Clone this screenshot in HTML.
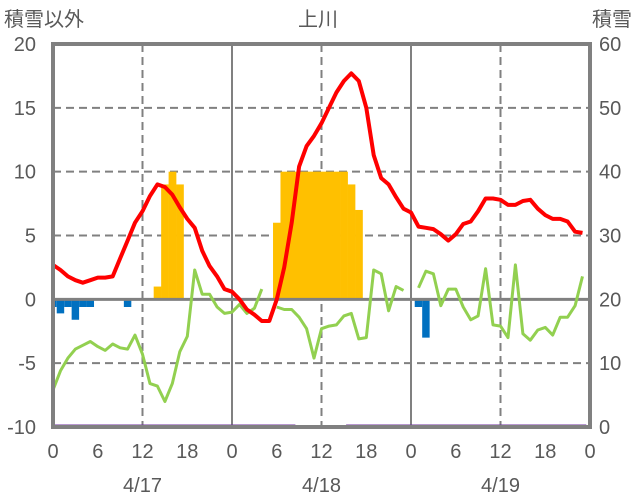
<!DOCTYPE html>
<html><head><meta charset="utf-8"><style>
html,body{margin:0;padding:0;background:#fff;width:636px;height:501px;overflow:hidden}
svg text{font-family:"Liberation Sans","Noto Sans CJK JP",sans-serif;fill:#595959}
</style></head><body>
<svg id="chart" width="636" height="501" xmlns="http://www.w3.org/2000/svg"></svg>
<script>
const hours = Array.from({length:72},(_,i)=>i);
const tempValues = [2.7,2.3,1.8,1.5,1.3,1.5,1.7,1.7,1.8,3.2,4.6,6.0,6.9,8.1,9.0,8.8,8.2,7.2,6.3,5.6,3.8,2.6,1.8,0.8,0.6,0.0,-0.8,-1.2,-1.7,-1.7,0.0,2.5,6.0,10.4,12.0,12.8,13.8,15.0,16.2,17.1,17.7,17.1,15.0,11.3,9.5,9.0,8.0,7.1,6.8,5.7,5.6,5.5,5.1,4.6,5.1,5.9,6.1,6.9,7.9,7.9,7.8,7.4,7.4,7.7,7.8,7.1,6.6,6.3,6.3,6.1,5.3,5.2];
const greenValues = [-7.1,-5.6,-4.6,-3.9,-3.6,-3.3,-3.7,-4.0,-3.5,-3.8,-3.9,-2.8,-4.3,-6.6,-6.8,-8.0,-6.6,-4.1,-2.9,2.3,0.4,0.4,-0.6,-1.1,-1.0,-0.4,-1.1,-0.7,0.8,null,-0.6,-0.8,-0.8,-1.4,-2.3,-4.6,-2.3,-2.1,-2.0,-1.3,-1.1,-3.1,-3.0,2.3,2.0,-0.9,1.0,0.7,null,0.9,2.2,2.0,-0.5,0.8,0.8,-0.6,-1.6,-1.3,2.4,-2.0,-2.1,-3.0,2.7,-2.7,-3.2,-2.4,-2.2,-2.8,-1.4,-1.4,-0.5,1.8];
const snowHours = [14,15,16,17,30,31,32,33,34,35,36,37,38,39,40,41];
const snowValues = [22,38,40,38,32,40,40,40,40,40,40,40,40,40,38,34];
const blueHours = [0,1,2,3,4,5,10,49,50];
const blueValues = [-0.6,-1.1,-0.6,-1.6,-0.6,-0.6,-0.6,-0.6,-3.0];
const purpleSegments = [[0,32.5],[39.3,71.5]];
const leftTicks = [20,15,10,5,0,-5,-10];
const rightTicks = [60,50,40,30,20,10,0];
const hourTickLabels = ["0","6","12","18","0","6","12","18","0","6","12","18","0"];
const dateLabels = ["4/17","4/18","4/19"];

const L=53,R=590,T=44,B=427;
const x = h => L + h*(R-L)/72;
const yL = v => T + (20-v)*(B-T)/30;
const yR = v => T + (60-v)*(B-T)/60;
const svg=document.getElementById('chart');
const NS='http://www.w3.org/2000/svg';
function mk(tag,attrs,parent){const e=document.createElementNS(NS,tag);for(const k in attrs)e.setAttribute(k,attrs[k]);(parent||svg).appendChild(e);return e;}

// grid
const grid=mk('g',{});


[15,10,5,-5].forEach(v=>{const l=mk('line',{x1:L,x2:R,y1:yL(v),y2:yL(v),stroke:'#808080','stroke-width':2,'stroke-dasharray':'8,5'},grid);

});
[12,36,60].forEach(h=>{const l=mk('line',{x1:x(h),x2:x(h),y1:T,y2:B,stroke:'#808080','stroke-width':2,'stroke-dasharray':'8,5'},grid);

});
[24,48].forEach(h=>{const l=mk('line',{x1:x(h),x2:x(h),y1:T,y2:B,stroke:'#808080','stroke-width':2},grid);

});

// snow bars
const bw=(R-L)/72;
snowHours.forEach((h,i)=>{const r=mk('rect',{x:x(h)-bw/2,y:yR(snowValues[i]),width:bw+0.3,height:yL(0)-yR(snowValues[i]),fill:'#FFC000'});

});
// blue bars
blueHours.forEach((h,i)=>{const r=mk('rect',{x:Math.max(L,x(h)-bw/2),y:yL(0),width:x(h)+bw/2-Math.max(L,x(h)-bw/2),height:yL(blueValues[i])-yL(0),fill:'#0070C0'});

});

// zero line
const z=mk('line',{x1:L,x2:R,y1:yL(0),y2:yL(0),stroke:'#808080','stroke-width':3});



// green line segments
function polyline(vals,color,w,name){let seg=[];const segs=[];vals.forEach((v,i)=>{if(v===null){if(seg.length)segs.push(seg);seg=[];}else seg.push(x(hours[i]).toFixed(1)+','+yL(v).toFixed(1));});if(seg.length)segs.push(seg);
segs.forEach(s=>{const p=mk('polyline',{points:s.join(' '),fill:'none',stroke:color,'stroke-width':w,'stroke-linejoin':'round'});

});}
polyline(greenValues,'#92D050',3,'green-series-line');
polyline(tempValues,'#FF0000',4,'temperature-line');

// purple
purpleSegments.forEach(s=>{const l=mk('line',{x1:x(s[0]),x2:x(s[1]),y1:B-1,y2:B-1,stroke:'#7030A0','stroke-width':3});

});

// frame
const f=mk('rect',{x:L,y:T,width:R-L,height:B-T,fill:'none',stroke:'#808080','stroke-width':4});



// axis labels
leftTicks.forEach(v=>{const t=mk('text',{x:36,y:yL(v)+7,'text-anchor':'end','font-size':20});t.textContent=String(v);

});
rightTicks.forEach(v=>{const t=mk('text',{x:599,y:yR(v)+7,'text-anchor':'start','font-size':20});t.textContent=String(v);

});
hourTickLabels.forEach((s,i)=>{const t=mk('text',{x:x(i*6),y:458,'text-anchor':'middle','font-size':20});t.textContent=s;

});
dateLabels.forEach((s,i)=>{const t=mk('text',{x:x(12+24*i),y:492,'text-anchor':'middle','font-size':20});t.textContent=s;

});
const t1=mk('text',{x:4,y:26,'font-size':20});t1.textContent='積雪以外';


const t2=mk('text',{x:318,y:26,'text-anchor':'middle','font-size':20});t2.textContent='上川';


const t3=mk('text',{x:632,y:26,'text-anchor':'end','font-size':20});t3.textContent='積雪';


</script>
</body></html>
